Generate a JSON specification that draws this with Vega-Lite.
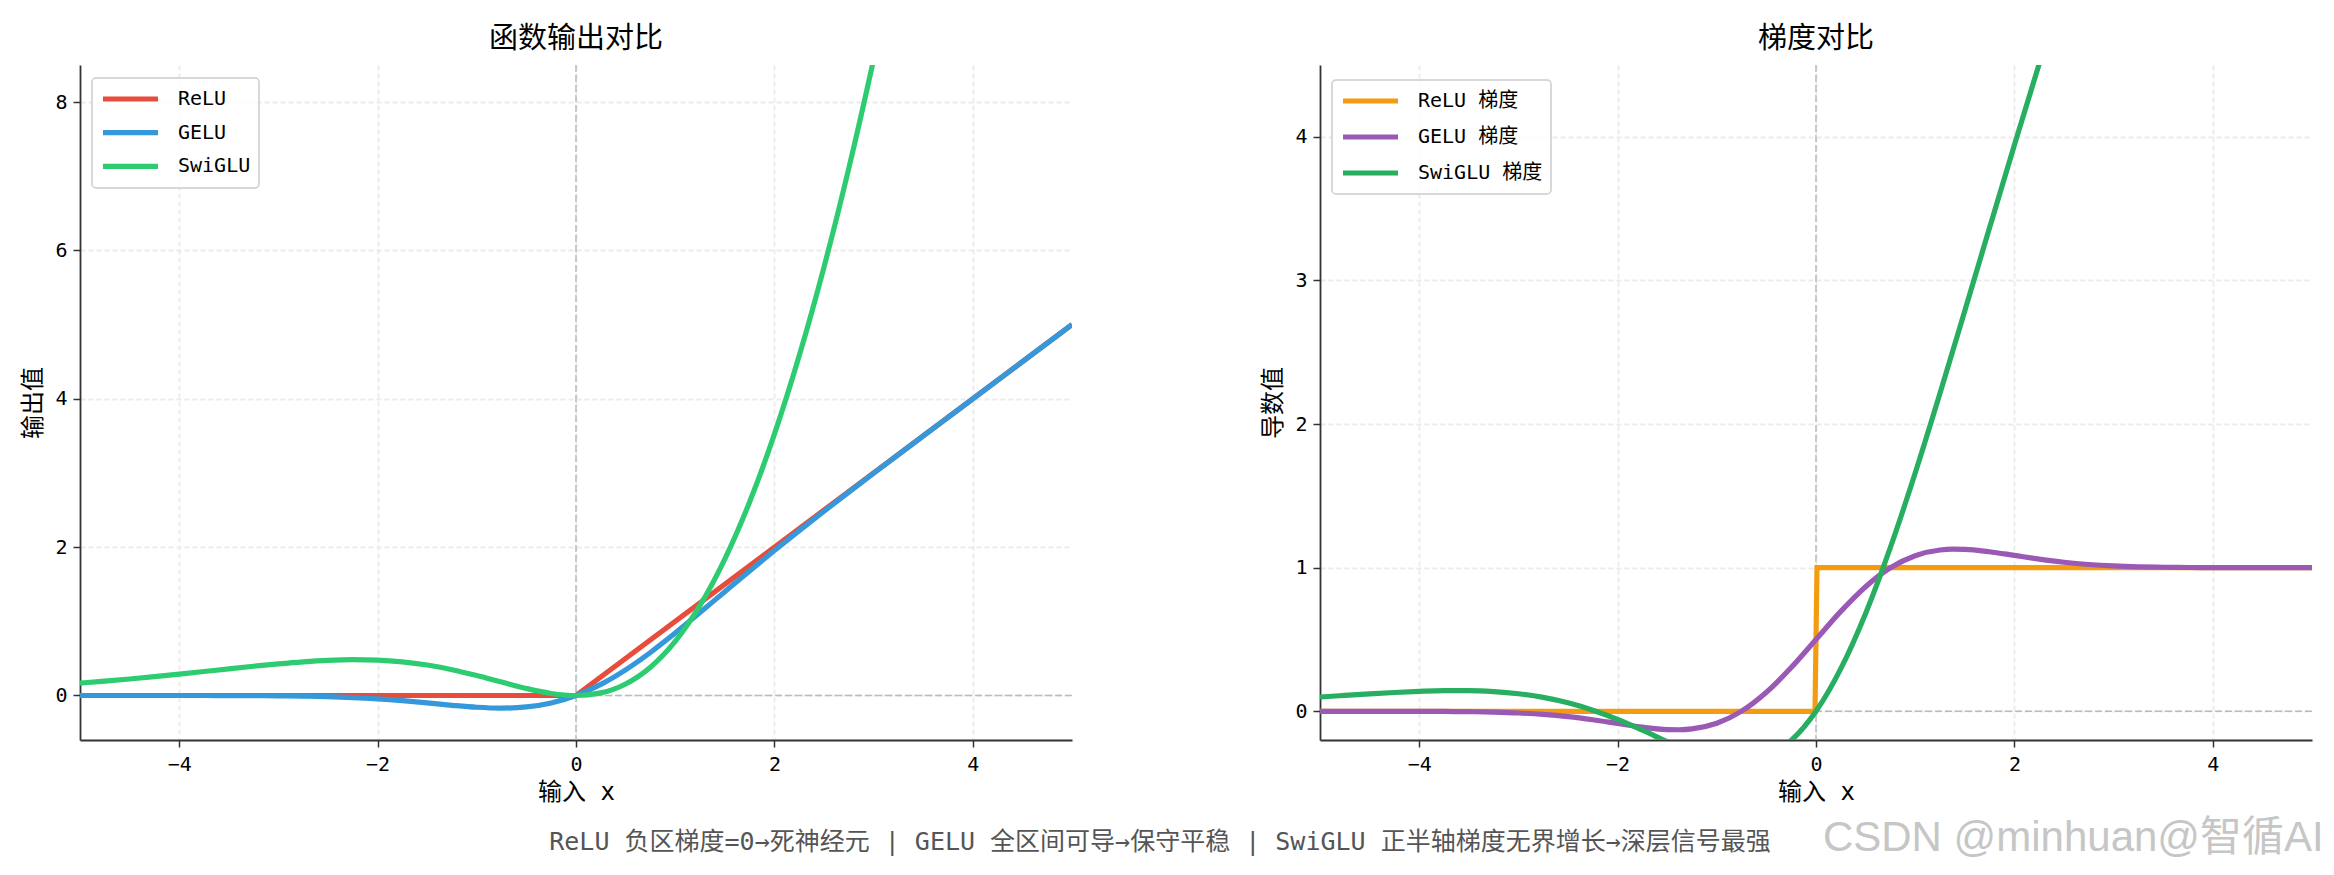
{
  "$schema": "https://vega.github.io/schema/vega-lite/v6.json",
  "background": "white",
  "padding": {"left": 21, "top": 25, "right": 0, "bottom": 4},
  "datasets": {
    "out": [
      {"s": "ReLU", "x": -5, "y": 0}, {"s": "ReLU", "x": 0, "y": 0}, {"s": "ReLU", "x": 5, "y": 5},
      {"s": "GELU", "x": -5, "y": 0}, {"s": "GELU", "x": -4.75, "y": 0}, {"s": "GELU", "x": -4.5, "y": -0.00002},
      {"s": "GELU", "x": -4.25, "y": -0.00005}, {"s": "GELU", "x": -4, "y": -0.00013}, {"s": "GELU", "x": -3.75, "y": -0.00033},
      {"s": "GELU", "x": -3.5, "y": -0.00082}, {"s": "GELU", "x": -3.25, "y": -0.00188}, {"s": "GELU", "x": -3, "y": -0.00405},
      {"s": "GELU", "x": -2.75, "y": -0.0082}, {"s": "GELU", "x": -2.5, "y": -0.0155}, {"s": "GELU", "x": -2.25, "y": -0.0275},
      {"s": "GELU", "x": -2, "y": -0.0455}, {"s": "GELU", "x": -1.75, "y": -0.0701}, {"s": "GELU", "x": -1.5, "y": -0.1002},
      {"s": "GELU", "x": -1.25, "y": -0.1321}, {"s": "GELU", "x": -1, "y": -0.1587}, {"s": "GELU", "x": -0.75, "y": -0.17},
      {"s": "GELU", "x": -0.5, "y": -0.1543}, {"s": "GELU", "x": -0.25, "y": -0.1003}, {"s": "GELU", "x": 0, "y": 0},
      {"s": "GELU", "x": 0.25, "y": 0.1497}, {"s": "GELU", "x": 0.5, "y": 0.3457}, {"s": "GELU", "x": 0.75, "y": 0.58},
      {"s": "GELU", "x": 1, "y": 0.8413}, {"s": "GELU", "x": 1.25, "y": 1.1179}, {"s": "GELU", "x": 1.5, "y": 1.3998},
      {"s": "GELU", "x": 1.75, "y": 1.6799}, {"s": "GELU", "x": 2, "y": 1.9545}, {"s": "GELU", "x": 2.25, "y": 2.2225},
      {"s": "GELU", "x": 2.5, "y": 2.4845}, {"s": "GELU", "x": 2.75, "y": 2.7418}, {"s": "GELU", "x": 3, "y": 2.996},
      {"s": "GELU", "x": 3.25, "y": 3.2481}, {"s": "GELU", "x": 3.5, "y": 3.4992}, {"s": "GELU", "x": 3.75, "y": 3.7497},
      {"s": "GELU", "x": 4, "y": 3.9999}, {"s": "GELU", "x": 4.25, "y": 4.25}, {"s": "GELU", "x": 4.5, "y": 4.5},
      {"s": "GELU", "x": 4.75, "y": 4.75}, {"s": "GELU", "x": 5, "y": 5},
      {"s": "SwiGLU", "x": -5, "y": 0.1673}, {"s": "SwiGLU", "x": -4.75, "y": 0.1935}, {"s": "SwiGLU", "x": -4.5, "y": 0.2225},
      {"s": "SwiGLU", "x": -4.25, "y": 0.254}, {"s": "SwiGLU", "x": -4, "y": 0.2878}, {"s": "SwiGLU", "x": -3.75, "y": 0.3231},
      {"s": "SwiGLU", "x": -3.5, "y": 0.3591}, {"s": "SwiGLU", "x": -3.25, "y": 0.3943}, {"s": "SwiGLU", "x": -3, "y": 0.4268},
      {"s": "SwiGLU", "x": -2.75, "y": 0.4544}, {"s": "SwiGLU", "x": -2.5, "y": 0.4741}, {"s": "SwiGLU", "x": -2.25, "y": 0.4827},
      {"s": "SwiGLU", "x": -2, "y": 0.4768}, {"s": "SwiGLU", "x": -1.75, "y": 0.4534}, {"s": "SwiGLU", "x": -1.5, "y": 0.4105},
      {"s": "SwiGLU", "x": -1.25, "y": 0.348}, {"s": "SwiGLU", "x": -1, "y": 0.2689}, {"s": "SwiGLU", "x": -0.75, "y": 0.1805},
      {"s": "SwiGLU", "x": -0.5, "y": 0.0944}, {"s": "SwiGLU", "x": -0.25, "y": 0.0274}, {"s": "SwiGLU", "x": 0, "y": 0},
      {"s": "SwiGLU", "x": 0.25, "y": 0.0351}, {"s": "SwiGLU", "x": 0.5, "y": 0.1556}, {"s": "SwiGLU", "x": 0.75, "y": 0.382},
      {"s": "SwiGLU", "x": 1, "y": 0.7311}, {"s": "SwiGLU", "x": 1.25, "y": 1.2145}, {"s": "SwiGLU", "x": 1.5, "y": 1.8395},
      {"s": "SwiGLU", "x": 1.75, "y": 2.6091}, {"s": "SwiGLU", "x": 2, "y": 3.5232}, {"s": "SwiGLU", "x": 2.25, "y": 4.5798},
      {"s": "SwiGLU", "x": 2.5, "y": 5.7759}, {"s": "SwiGLU", "x": 2.75, "y": 7.1081}, {"s": "SwiGLU", "x": 3, "y": 8.5732},
      {"s": "SwiGLU", "x": 3.25, "y": 10.168}, {"s": "SwiGLU", "x": 3.5, "y": 11.891}
    ],
    "grad": [
      {"s": "ReLU 梯度", "x": -5, "y": 0}, {"s": "ReLU 梯度", "x": -0.01, "y": 0}, {"s": "ReLU 梯度", "x": 0.01, "y": 1}, {"s": "ReLU 梯度", "x": 5, "y": 1},
      {"s": "GELU 梯度", "x": -5, "y": 0}, {"s": "GELU 梯度", "x": -4.75, "y": -0.00002}, {"s": "GELU 梯度", "x": -4.5, "y": -0.00007},
      {"s": "GELU 梯度", "x": -4.25, "y": -0.00019}, {"s": "GELU 梯度", "x": -4, "y": -0.0005}, {"s": "GELU 梯度", "x": -3.75, "y": -0.00124},
      {"s": "GELU 梯度", "x": -3.5, "y": -0.00282}, {"s": "GELU 梯度", "x": -3.25, "y": -0.006}, {"s": "GELU 梯度", "x": -3, "y": -0.0119},
      {"s": "GELU 梯度", "x": -2.75, "y": -0.022}, {"s": "GELU 梯度", "x": -2.5, "y": -0.0376}, {"s": "GELU 梯度", "x": -2.25, "y": -0.0592},
      {"s": "GELU 梯度", "x": -2, "y": -0.0852}, {"s": "GELU 梯度", "x": -1.75, "y": -0.1109}, {"s": "GELU 梯度", "x": -1.5, "y": -0.1275},
      {"s": "GELU 梯度", "x": -1.375, "y": -0.1286}, {"s": "GELU 梯度", "x": -1.25, "y": -0.1227}, {"s": "GELU 梯度", "x": -1, "y": -0.0833},
      {"s": "GELU 梯度", "x": -0.75, "y": 0.0008}, {"s": "GELU 梯度", "x": -0.5, "y": 0.1325}, {"s": "GELU 梯度", "x": -0.25, "y": 0.3046},
      {"s": "GELU 梯度", "x": 0, "y": 0.5}, {"s": "GELU 梯度", "x": 0.25, "y": 0.6954}, {"s": "GELU 梯度", "x": 0.5, "y": 0.8675},
      {"s": "GELU 梯度", "x": 0.75, "y": 0.9992}, {"s": "GELU 梯度", "x": 1, "y": 1.0833}, {"s": "GELU 梯度", "x": 1.25, "y": 1.1227},
      {"s": "GELU 梯度", "x": 1.375, "y": 1.1286}, {"s": "GELU 梯度", "x": 1.5, "y": 1.1275}, {"s": "GELU 梯度", "x": 1.75, "y": 1.1109},
      {"s": "GELU 梯度", "x": 2, "y": 1.0852}, {"s": "GELU 梯度", "x": 2.25, "y": 1.0592}, {"s": "GELU 梯度", "x": 2.5, "y": 1.0376},
      {"s": "GELU 梯度", "x": 2.75, "y": 1.022}, {"s": "GELU 梯度", "x": 3, "y": 1.0119}, {"s": "GELU 梯度", "x": 3.25, "y": 1.006},
      {"s": "GELU 梯度", "x": 3.5, "y": 1.0028}, {"s": "GELU 梯度", "x": 3.75, "y": 1.0012}, {"s": "GELU 梯度", "x": 4, "y": 1.0005},
      {"s": "GELU 梯度", "x": 4.25, "y": 1.0002}, {"s": "GELU 梯度", "x": 4.5, "y": 1.0001}, {"s": "GELU 梯度", "x": 4.75, "y": 1},
      {"s": "GELU 梯度", "x": 5, "y": 1},
      {"s": "SwiGLU 梯度", "x": -5, "y": 0.0993}, {"s": "SwiGLU 梯度", "x": -4.75, "y": 0.1104}, {"s": "SwiGLU 梯度", "x": -4.5, "y": 0.1212},
      {"s": "SwiGLU 梯度", "x": -4.25, "y": 0.1309}, {"s": "SwiGLU 梯度", "x": -4, "y": 0.1387}, {"s": "SwiGLU 梯度", "x": -3.75, "y": 0.1434},
      {"s": "SwiGLU 梯度", "x": -3.5, "y": 0.1434}, {"s": "SwiGLU 梯度", "x": -3.25, "y": 0.1369}, {"s": "SwiGLU 梯度", "x": -3, "y": 0.122},
      {"s": "SwiGLU 梯度", "x": -2.75, "y": 0.0966}, {"s": "SwiGLU 梯度", "x": -2.5, "y": 0.0589}, {"s": "SwiGLU 梯度", "x": -2.25, "y": 0.0076},
      {"s": "SwiGLU 梯度", "x": -2, "y": -0.0568}, {"s": "SwiGLU 梯度", "x": -1.75, "y": -0.1319}, {"s": "SwiGLU 梯度", "x": -1.5, "y": -0.2117},
      {"s": "SwiGLU 梯度", "x": -1.25, "y": -0.2863}, {"s": "SwiGLU 梯度", "x": -1, "y": -0.3413}, {"s": "SwiGLU 梯度", "x": -0.75, "y": -0.3587},
      {"s": "SwiGLU 梯度", "x": -0.5, "y": -0.3188}, {"s": "SwiGLU 梯度", "x": -0.25, "y": -0.2035}, {"s": "SwiGLU 梯度", "x": 0, "y": 0},
      {"s": "SwiGLU 梯度", "x": 0.25, "y": 0.2965}, {"s": "SwiGLU 梯度", "x": 0.5, "y": 0.6812}, {"s": "SwiGLU 梯度", "x": 0.75, "y": 1.1413},
      {"s": "SwiGLU 梯度", "x": 1, "y": 1.6587}, {"s": "SwiGLU 梯度", "x": 1.25, "y": 2.2137}, {"s": "SwiGLU 梯度", "x": 1.5, "y": 2.7883},
      {"s": "SwiGLU 梯度", "x": 1.75, "y": 3.3681}, {"s": "SwiGLU 梯度", "x": 2, "y": 3.9432}, {"s": "SwiGLU 梯度", "x": 2.25, "y": 4.5076},
      {"s": "SwiGLU 梯度", "x": 2.5, "y": 5.0589}
    ]
  },
  "hconcat": [
    {
      "width": 992,
      "height": 675,
      "title": {"text": "函数输出对比", "frame": "group", "anchor": "middle", "offset": -13, "baseline": "alphabetic"},
      "data": {"name": "out"},
      "layer": [
        {
          "data": {"values": [{}]},
          "mark": {"type": "rule", "color": "#bbbbbb", "strokeDash": [7, 3], "strokeWidth": 1.5},
          "encoding": {"x": {"datum": 0, "type": "quantitative", "scale": {"domain": [-5, 5], "nice": false, "zero": false}}}
        },
        {
          "data": {"values": [{}]},
          "mark": {"type": "rule", "color": "#bbbbbb", "strokeDash": [7, 3], "strokeWidth": 1.5},
          "encoding": {"y": {"datum": 0, "type": "quantitative", "scale": {"domain": [-0.6, 8.5], "nice": false, "zero": false}}}
        },
        {
          "transform": [{"filter": "datum.s === 'ReLU'"}],
          "mark": {"type": "line", "clip": true, "strokeWidth": 5.2, "interpolate": "linear"},
          "encoding": {
            "x": {"field": "x", "type": "quantitative", "scale": {"domain": [-5, 5], "nice": false, "zero": false},
                  "axis": {"values": [-4, -2, 0, 2, 4], "format": "d", "grid": true, "title": "输入 x"}},
            "y": {"field": "y", "type": "quantitative", "scale": {"domain": [-0.6, 8.5], "nice": false, "zero": false},
                  "axis": {"values": [0, 2, 4, 6, 8], "format": "d", "grid": true, "title": "输出值", "titleX": -47, "titleY": 337.5, "titleBaseline": "middle"}},
            "color": {"field": "s", "type": "nominal", "title": null,
                      "scale": {"domain": ["ReLU", "GELU", "SwiGLU"], "range": ["#e74c3c", "#3498db", "#2ecc71"]},
                      "legend": {"orient": "none", "legendX": 12, "legendY": 13, "rowPadding": 7.7}}
          }
        },
        {
          "transform": [{"filter": "datum.s === 'GELU'"}],
          "mark": {"type": "line", "clip": true, "strokeWidth": 5.2, "interpolate": "monotone"},
          "encoding": {
            "x": {"field": "x", "type": "quantitative"},
            "y": {"field": "y", "type": "quantitative"},
            "color": {"field": "s", "type": "nominal"}
          }
        },
        {
          "transform": [{"filter": "datum.s === 'SwiGLU'"}],
          "mark": {"type": "line", "clip": true, "strokeWidth": 5.2, "interpolate": "monotone"},
          "encoding": {
            "x": {"field": "x", "type": "quantitative"},
            "y": {"field": "y", "type": "quantitative"},
            "color": {"field": "s", "type": "nominal"}
          }
        },
        {
          "data": {"values": [{"t": "ReLU 负区梯度=0→死神经元 | GELU 全区间可导→保守平稳 | SwiGLU 正半轴梯度无界增长→深层信号最强"}]},
          "mark": {"type": "text", "align": "center", "baseline": "alphabetic", "fontSize": 25, "color": "#555555", "clip": false},
          "encoding": {
            "x": {"datum": 5.887, "type": "quantitative"},
            "y": {"datum": -2.079, "type": "quantitative"},
            "text": {"field": "t", "type": "nominal"}
          }
        }
      ]
    },
    {
      "width": 992,
      "height": 675,
      "title": {"text": "梯度对比", "frame": "group", "anchor": "middle", "offset": -13, "baseline": "alphabetic"},
      "data": {"name": "grad"},
      "layer": [
        {
          "data": {"values": [{}]},
          "mark": {"type": "rule", "color": "#bbbbbb", "strokeDash": [7, 3], "strokeWidth": 1.5},
          "encoding": {"x": {"datum": 0, "type": "quantitative", "scale": {"domain": [-5, 5], "nice": false, "zero": false}}}
        },
        {
          "data": {"values": [{}]},
          "mark": {"type": "rule", "color": "#bbbbbb", "strokeDash": [7, 3], "strokeWidth": 1.5},
          "encoding": {"y": {"datum": 0, "type": "quantitative", "scale": {"domain": [-0.2, 4.5], "nice": false, "zero": false}}}
        },
        {
          "transform": [{"filter": "datum.s === 'ReLU 梯度'"}],
          "mark": {"type": "line", "clip": true, "strokeWidth": 5.2, "interpolate": "linear"},
          "encoding": {
            "x": {"field": "x", "type": "quantitative", "scale": {"domain": [-5, 5], "nice": false, "zero": false},
                  "axis": {"values": [-4, -2, 0, 2, 4], "format": "d", "grid": true, "title": "输入 x"}},
            "y": {"field": "y", "type": "quantitative", "scale": {"domain": [-0.2, 4.5], "nice": false, "zero": false},
                  "axis": {"values": [0, 1, 2, 3, 4], "format": "d", "grid": true, "title": "导数值", "titleX": -47, "titleY": 337.5, "titleBaseline": "middle"}},
            "color": {"field": "s", "type": "nominal", "title": null,
                      "scale": {"domain": ["ReLU 梯度", "GELU 梯度", "SwiGLU 梯度"], "range": ["#f39c12", "#9b59b6", "#27ae60"]},
                      "legend": {"orient": "none", "legendX": 12, "legendY": 15, "rowPadding": 10}}
          }
        },
        {
          "transform": [{"filter": "datum.s === 'GELU 梯度'"}],
          "mark": {"type": "line", "clip": true, "strokeWidth": 5.2, "interpolate": "monotone"},
          "encoding": {
            "x": {"field": "x", "type": "quantitative"},
            "y": {"field": "y", "type": "quantitative"},
            "color": {"field": "s", "type": "nominal"}
          }
        },
        {
          "transform": [{"filter": "datum.s === 'SwiGLU 梯度'"}],
          "mark": {"type": "line", "clip": true, "strokeWidth": 5.2, "interpolate": "monotone"},
          "encoding": {
            "x": {"field": "x", "type": "quantitative"},
            "y": {"field": "y", "type": "quantitative"},
            "color": {"field": "s", "type": "nominal"}
          }
        },
        {
          "data": {"values": [{"t": "CSDN @minhuan@智循AI"}]},
          "mark": {"type": "text", "align": "left", "baseline": "alphabetic", "fontSize": 42, "font": "Liberation Sans, Noto Sans CJK SC", "color": "#c6c6c6", "clip": false},
          "encoding": {
            "x": {"datum": 0.07, "type": "quantitative"},
            "y": {"datum": -0.971, "type": "quantitative"},
            "text": {"field": "t", "type": "nominal"}
          }
        }
      ]
    }
  ],
  "spacing": 248,
  "bounds": "flush",
  "resolve": {
    "scale": {"x": "independent", "y": "independent", "color": "independent"},
    "legend": {"color": "independent"}
  },
  "config": {
    "font": "DejaVu Sans Mono, Noto Sans CJK SC",
    "view": {"stroke": null},
    "axis": {
      "grid": true,
      "domainColor": "#333333", "domainWidth": 1.8,
      "tickColor": "#333333", "tickWidth": 1.5, "tickSize": 7,
      "labelFontSize": 20, "labelColor": "#000000", "labelPadding": 6,
      "titleFontSize": 24, "titleFontWeight": "normal", "titleColor": "#000000",
      "gridColor": "#ebebeb", "gridDash": [5, 3], "gridWidth": 1.8
    },
    "axisX": {"labelPadding": 7, "titlePadding": 6},
    "title": {"fontSize": 29, "fontWeight": "normal", "color": "#000000"},
    "legend": {
      "symbolType": "stroke", "symbolSize": 3025, "symbolStrokeWidth": 5.2,
      "labelFontSize": 20, "labelColor": "#000000", "labelOffset": 17, "labelLimit": 300,
      "padding": 8, "fillColor": "rgba(255,255,255,0.8)", "strokeColor": "#cccccc", "strokeWidth": 1.5,
      "cornerRadius": 4, "clipHeight": 26
    }
  }
}
